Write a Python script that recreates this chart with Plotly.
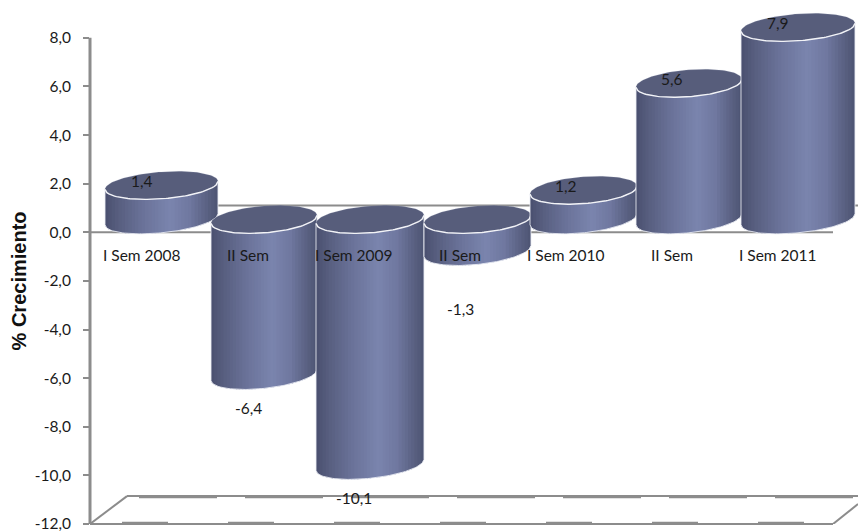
import numpy as np
import plotly.graph_objects as go

# Half-year growth figures
categories = ["I Sem 2008", "II Sem", "I Sem 2009", "II Sem", "I Sem 2010", "II Sem", "I Sem 2011"]
growth = [1.4, -6.4, -10.1, -1.3, 1.2, 5.6, 7.9]
value_labels = ["1,4", "-6,4", "-10,1", "-1,3", "1,2", "5,6", "7,9"]
y_ticks = [-12, -10, -8, -6, -4, -2, 0, 2, 4, 6, 8]
y_tick_labels = ["-12,0", "-10,0", "-8,0", "-6,0", "-4,0", "-2,0", "0,0", "2,0", "4,0", "6,0", "8,0"]

# Canvas and scale: one category step and one y unit, in pixels
WIDTH, HEIGHT = 858, 532
LEFT, BOTTOM = 90, 6
STEP, UNIT = 106.0, 24.4
ORIGIN = 158.0  # pixel position of category 0
x_range = [(LEFT - ORIGIN) / STEP, (WIDTH - ORIGIN) / STEP]
y_range = [-12, 8 + 38 / UNIT]

# Cylinder geometry, in pixels
bar_shift = [3.5, 0, 0, 1.5, 1.5, 1, 4]
half_width = [56.5, 53, 54, 53.5, 53.5, 53, 57]
RY = 13.5
DEPTH = 13.0
TILT_CAP, TILT_BASE = 4.0, 5.5
STRIPS = 34

# Cylinder wall shading across its width
shade_pos = [0.0, 0.12, 0.35, 0.58, 0.75, 0.92, 1.0]
shade_rgb = [(74, 80, 112), (88, 95, 128), (108, 116, 155), (123, 133, 174),
             (112, 120, 160), (88, 95, 128), (78, 84, 115)]


def shade(p):
    c = [np.interp(p, shade_pos, [s[k] for s in shade_rgb]) for k in range(3)]
    return "rgb(%d,%d,%d)" % tuple(c)


def ring(cx, rx, value, u, side, tilt):
    """Point(s) on a tilted ellipse whose front edge sits at `value`."""
    u = np.asarray(u, dtype=float)
    dy = side * RY * np.sqrt(np.clip(1 - u ** 2, 0, 1)) + tilt * -u
    return cx + u * rx / STEP, value + (DEPTH - dy) / UNIT


fig = go.Figure()

for i, v in enumerate(growth):
    cx = i + bar_shift[i] / STEP
    rx = half_width[i]
    hi, lo = max(v, 0), min(v, 0)
    edges = np.linspace(-1, 1, STRIPS + 1)

    # Wall: overlapping vertical strips, painted left to right
    for k in range(STRIPS):
        u_over = np.linspace(edges[k], min(edges[k + 1] + 0.02, 1), 5)
        x_top, y_top = ring(cx, rx, hi, u_over, 0, TILT_CAP)
        x_bot, y_bot = ring(cx, rx, lo, u_over, 1, TILT_BASE)
        fig.add_trace(go.Scatter(
            x=np.r_[x_top, x_bot[::-1]], y=np.r_[y_top, y_bot[::-1]],
            mode="lines", fill="toself", fillcolor=shade((k + 0.5) / STRIPS),
            line=dict(width=0), hoverinfo="skip", showlegend=False))

    # Pale outline down the sides and along the base
    u = np.linspace(-1, 1, 60)
    xb, yb = ring(cx, rx, lo, u, 1, TILT_BASE)
    xt0, yt0 = ring(cx, rx, hi, [-1.0], 0, TILT_CAP)
    xt1, yt1 = ring(cx, rx, hi, [1.0], 0, TILT_CAP)
    fig.add_trace(go.Scatter(
        x=np.r_[xt0, xb, xt1], y=np.r_[yt0, yb, yt1], mode="lines",
        line=dict(color="rgba(235,237,245,0.85)", width=1),
        hoverinfo="skip", showlegend=False))

    # Cap: filled ellipse with a bright front rim
    t = np.linspace(0, 2 * np.pi, 121)
    uc, sc = np.cos(t), np.sin(t)
    xc = cx + uc * rx / STEP
    yc = hi + (DEPTH - RY * sc + TILT_CAP * uc) / UNIT
    fig.add_trace(go.Scatter(
        x=xc, y=yc, mode="lines", fill="toself", fillcolor="#575d7b",
        line=dict(color="rgba(200,204,220,0.3)", width=0.6),
        hoverinfo="skip", showlegend=False))
    xf, yf = ring(cx, rx, hi, u, 1, TILT_CAP)
    fig.add_trace(go.Scatter(
        x=xf, y=yf, mode="lines", line=dict(color="#f2f3f7", width=1.4),
        hoverinfo="skip", showlegend=False))

# Chart box: back and front floor edges, zero lines, left wall
GREY = "#8c8c8c"
x0, x1 = x_range
x_front_end = (833 - ORIGIN) / STEP
x_back_start = (127 - ORIGIN) / STEP
x_back_zero = (218 - ORIGIN) / STEP
back_floor = -12 + 28 / UNIT
back_zero = 27 / UNIT
frame = [
    (x_back_start, back_floor, x1, back_floor),
    (x0, -12, x_back_start, back_floor),
    (x_front_end, -12, x1, -12 + 20 / UNIT),
    (x0, 0, x_front_end, 0),
    (x_back_zero, back_zero, x1, back_zero),
]
for a, b, c, d in frame:
    fig.add_shape(type="line", xref="x", yref="y", x0=a, y0=b, x1=c, y1=d,
                  layer="below", line=dict(color=GREY, width=2))
# The left wall and the front floor edge sit on the plot border
fig.add_shape(type="line", xref="paper", yref="y", x0=0, x1=0, y0=-12, y1=8,
              layer="below", line=dict(color=GREY, width=3))
fig.add_shape(type="line", xref="x", yref="paper", x0=x0, x1=x_front_end, y0=0, y1=0,
              layer="below", line=dict(color=GREY, width=2))
# Short ledge segments along the floor
for i in range(len(categories)):
    mid = i - 13 / STEP
    fig.add_shape(type="line", xref="x", yref="y", x0=mid - 23 / STEP, x1=mid + 23 / STEP,
                  y0=-12 + 1.5 / UNIT, y1=-12 + 1.5 / UNIT, layer="below",
                  line=dict(color=GREY, width=1.5))
    back = i + 20 / STEP
    fig.add_shape(type="line", xref="x", yref="y", x0=back - 39 / STEP, x1=back + 39 / STEP,
                  y0=back_floor - 1.5 / UNIT, y1=back_floor - 1.5 / UNIT, layer="below",
                  line=dict(color=GREY, width=1.5))

TEXT = dict(family="Lato", size=15.5, color="#1a1a1a")
LABEL_X = -16 / STEP
for i, (name, v, lab) in enumerate(zip(categories, growth, value_labels)):
    fig.add_annotation(x=i + LABEL_X, y=0, yshift=-23, text=name, showarrow=False,
                       font=TEXT, xanchor="center", yanchor="middle")
    if v >= 0:
        shift = 17
    elif lab == "-1,3":
        shift = -45
    else:
        shift = -20
    fig.add_annotation(x=i + LABEL_X, y=v, yshift=shift, text=lab, showarrow=False,
                       font=TEXT, xanchor="center", yanchor="middle")

fig.add_annotation(xref="paper", x=(19 - LEFT) / (WIDTH - LEFT), yref="y", y=-2.02,
                   text="<b>% Crecimiento</b>", textangle=-90, showarrow=False,
                   xanchor="center", yanchor="middle",
                   font=dict(family="Liberation Sans", size=20, color="#111111"))

fig.update_layout(
    width=WIDTH, height=HEIGHT, autosize=False,
    margin=dict(l=LEFT, r=0, t=0, b=BOTTOM, pad=0),
    paper_bgcolor="white", plot_bgcolor="white",
    showlegend=False,
    xaxis=dict(range=x_range, visible=False, fixedrange=True),
    yaxis=dict(range=y_range, tickvals=y_ticks, ticktext=y_tick_labels,
               showgrid=False, zeroline=False, showline=False,
               ticks="outside", ticklen=6, tickwidth=1.5, tickcolor=GREY,
               ticklabelstandoff=9, ticklabeloverflow="allow",
               tickfont=TEXT, fixedrange=True),
)
fig.write_html("out.html", config=dict(displayModeBar=False))
